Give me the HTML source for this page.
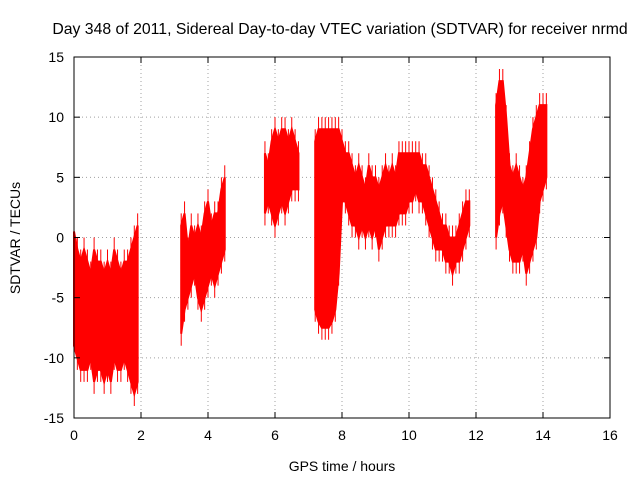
<!DOCTYPE html>
<html><head><meta charset="utf-8"><style>
body{margin:0;background:#fff}
svg{display:block;font-family:"Liberation Sans",sans-serif}
</style></head><body>
<svg id="chart" width="640" height="480">
<rect width="640" height="480" fill="#fff"/>
<text x="340" y="34" text-anchor="middle" font-size="15.8">Day 348 of 2011, Sidereal Day-to-day VTEC variation (SDTVAR) for receiver nrmd</text>
<text transform="translate(20,238) rotate(-90)" text-anchor="middle" font-size="14">SDTVAR / TECUs</text>
<text x="342" y="471" text-anchor="middle" font-size="14">GPS time / hours</text>
<g id="grid"></g><g id="marks"></g><g id="axes"></g>
</svg>
<script>
const xTicks=[0,2,4,6,8,10,12,14,16];
const yTicks=[-15,-10,-5,0,5,10,15];
const segs=[0,0,0,0,0,0,0,0,0,0,0,0,0,0,0,0,0,0,0,0,
1,1,1,1,1,1,1,1,1,1,1,1,1,1,
2,2,2,2,2,2,2,2,2,2,2,
3,3,3,3,3,3,3,3,3,3,3,3,3,3,3,3,3,3,3,3,3,3,3,3,3,3,3,3,3,3,3,3,3,3,3,3,3,3,3,3,3,3,3,3,3,3,3,
4,4,4,4,4,4,4,4,4,4,4,4,4,4,4,4];
const times=[0,0.1,0.2,0.3,0.4,0.5,0.6,0.7,0.8,0.9,1.0,1.1,1.2,1.3,1.4,1.5,1.6,1.7,1.8,1.9,
3.2,3.3,3.4,3.5,3.6,3.7,3.8,3.9,4.0,4.1,4.2,4.3,4.4,4.5,
5.7,5.8,5.9,6.0,6.1,6.2,6.3,6.4,6.5,6.6,6.7,
7.2,7.3,7.4,7.5,7.6,7.7,7.8,7.9,8.0,8.1,8.2,8.3,8.4,8.5,8.6,8.7,8.8,8.9,9.0,9.1,9.2,9.3,9.4,9.5,9.6,9.7,9.8,9.9,10.0,10.1,10.2,10.3,10.4,10.5,10.6,10.7,10.8,10.9,11.0,11.1,11.2,11.3,11.4,11.5,11.6,11.7,11.8,
12.6,12.7,12.8,12.9,13.0,13.1,13.2,13.3,13.4,13.5,13.6,13.7,13.8,13.9,14.0,14.1];
const highs=[0.5,-1,-2,-1,-2,-3,-1,-2,-2,-3,-2,-3,-1,-2,-3,-2,-2,-1,0,1,
1,2,-1,1,0,1,0,2,3,1,2,2,4,5,
7,6,8,9,8,9,9,8,9,8,7,
8,9,9,9,9,9,9,9,8,7,7,6,5,6,5,4,6,5,5,4,5,6,5,6,5,7,7,7,7,7,7,7,6,6,5,4,3,2,1,1,0,0,0,1,2,3,3,
11,13,13,10,6,5,6,5,4,5,7,9,10,11,11,11];
const lows=[-9,-10,-11,-11,-11,-10,-12,-11,-11,-12,-11,-12,-10,-11,-11,-10,-11,-12,-13,-12,
-8,-6,-5,-4,-3,-5,-6,-5,-4,-3,-4,-3,-2,-1,
2,3,2,1,2,3,2,3,4,4,4,
-6,-7,-7.5,-7.5,-7.5,-7,-6,-3,3,3,2,1,1,0,1,0,1,0,1,-1,0,1,1,1,1,2,2,2,3,3,4,3,3,2,1,0,-1,-1,-1,-2,-2,-3,-2,-2,-1,0,1,
0,2,3,1,-1,-2,-2,-2,-1,-3,-2,-1,0,3,4,5];
const X0=74,X1=610,Y0=418,Y1=57;
const xs=v=>X0+(v-0)/16*(X1-X0);
const ys=v=>Y0-(v+15)/30*(Y0-Y1);
const NS="http://www.w3.org/2000/svg";
const grid=document.getElementById('grid'),axes=document.getElementById('axes'),marks=document.getElementById('marks');
function mk(tag,attrs,parent){const e=document.createElementNS(NS,tag);for(const k in attrs)e.setAttribute(k,attrs[k]);parent.appendChild(e);return e;}
xTicks.forEach(t=>{const x=xs(t);
 if(t>0&&t<16){const g=mk('line',{x1:x,x2:x,y1:Y0,y2:Y1,stroke:'#a0a0a0','stroke-dasharray':'1,3'},grid);
 
 }
 mk('line',{x1:x,x2:x,y1:Y0,y2:Y0-6,stroke:'#000'},axes);mk('line',{x1:x,x2:x,y1:Y1,y2:Y1+6,stroke:'#000'},axes);
 const l=mk('text',{x:x,y:Y0+22,'text-anchor':'middle','font-size':'14'},axes);l.textContent=t;
 
 });
yTicks.forEach(t=>{const y=ys(t);
 if(t>-15&&t<15){const g=mk('line',{x1:X0,x2:X1,y1:y,y2:y,stroke:'#a0a0a0','stroke-dasharray':'1,3'},grid);
 
 }
 mk('line',{x1:X0,x2:X0+6,y1:y,y2:y,stroke:'#000'},axes);mk('line',{x1:X1,x2:X1-6,y1:y,y2:y,stroke:'#000'},axes);
 const l=mk('text',{x:X0-10,y:y+5,'text-anchor':'end','font-size':'14'},axes);l.textContent=t;
 
 });
const fr=mk('rect',{x:X0,y:Y1,width:X1-X0,height:Y0-Y1,fill:'none',stroke:'#000'},axes);


const groups={};
times.forEach((t,i)=>{(groups[segs[i]]=groups[segs[i]]||[]).push(i);});
Object.keys(groups).forEach(s=>{const idx=groups[s];
 const pts=idx.map(i=>xs(times[i])+','+ys(highs[i])).concat(idx.slice().reverse().map(i=>xs(times[i])+','+ys(lows[i])));
 const p=mk('polygon',{points:pts.join(' '),fill:'#ff0000',stroke:'#ff0000','stroke-width':'2'},marks);
 
 
 idx.forEach(i=>{const ln=mk('line',{x1:xs(times[i]),x2:xs(times[i]),y1:ys(highs[i]+1),y2:ys(lows[i]-1),stroke:'#ff0000','stroke-width':'1'},marks);
 
 });
});
</script>
</body></html>
